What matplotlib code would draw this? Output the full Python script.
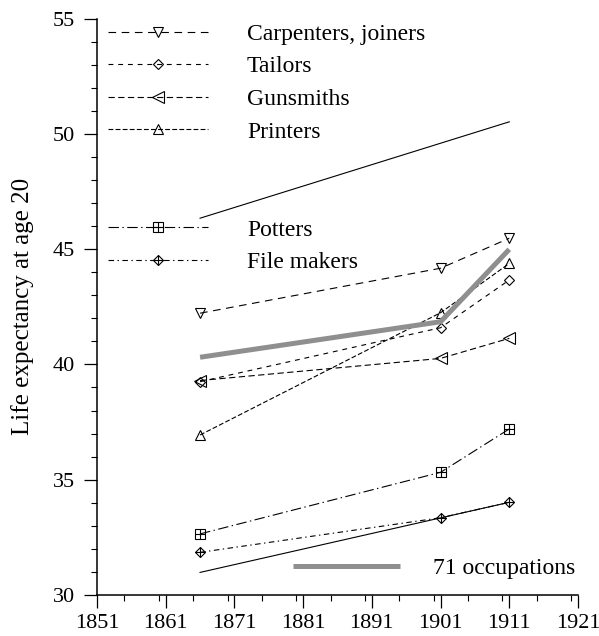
import matplotlib
matplotlib.use("Agg")
import matplotlib.pyplot as plt
from matplotlib.lines import Line2D
from matplotlib.legend_handler import HandlerTuple
from matplotlib.ticker import MultipleLocator

plt.rcParams['font.family'] = ['Liberation Serif', 'DejaVu Serif']
plt.rcParams['lines.scale_dashes'] = False

years = [1866, 1901, 1911]
carpenters = [42.22, 44.17, 45.47]
tailors = [39.25, 41.59, 43.66]
gunsmiths = [39.3, 40.26, 41.13]
printers = [36.94, 42.24, 44.38]
potters = [32.65, 35.32, 37.2]
file_makers = [31.85, 33.35, 34.02]
all_occ = [40.31, 41.85, 44.99]
upper_years = [1866, 1911]
upper_bound = [46.34, 50.52]
lower_years = [1866, 1911]
lower_bound = [30.98, 34.02]

labels = ['Carpenters, joiners', 'Tailors', 'Gunsmiths', 'Printers', 'Potters', 'File makers']
all_label = '71 occupations'
x_ticks = list(range(1851, 1922, 10))
y_ticks = list(range(30, 56, 5))
y_label = 'Life expectancy at age 20'

fig = plt.figure(figsize=(5.99, 6.36), dpi=100)
ax = fig.add_axes([97/599, 41/636, 481/599, 576.5/636])

lw = 0.8
mk = dict(markerfacecolor='none', markeredgecolor='black', markeredgewidth=0.8, color='black', linewidth=lw)

# bound lines
ax.plot(upper_years, upper_bound, color='black', linewidth=lw)
ax.plot(lower_years, lower_bound, color='black', linewidth=lw)

h_carp, = ax.plot(years, carpenters, marker='v', markersize=7.5, dashes=(5.5, 4), **mk)
h_tail, = ax.plot(years, tailors, marker='D', markersize=5.2, dashes=(3.5, 3.5), **mk)
h_gun, = ax.plot(years, gunsmiths, marker='<', markersize=8, dashes=(4.5, 2.5), **mk)
h_print, = ax.plot(years, printers, marker='^', markersize=7.5, dashes=(3.5, 1.6), **mk)
h_pot, = ax.plot(years, potters, marker='s', markersize=7.6, dashes=(7.5, 2.5, 1, 2.5), **mk)
h_pot2, = ax.plot(years, potters, marker='+', linestyle='none', color='black', markersize=7.6, markeredgewidth=0.8)
h_file, = ax.plot(years, file_makers, marker='D', markersize=5.4, dashes=(4, 2.5, 1, 2.5), **mk)
h_file2, = ax.plot(years, file_makers, marker='+', linestyle='none', color='black', markersize=7.7, markeredgewidth=0.8)
h_all, = ax.plot(years, all_occ, color='#8f8f8f', linewidth=3.6, solid_capstyle='butt', zorder=3)

blank = Line2D([], [], linestyle='none')
handles = [h_carp, h_tail, h_gun, h_print, blank, blank, (h_pot, h_pot2), (h_file, h_file2)]
leg_labels = labels[:4] + [' ', ' '] + labels[4:]
leg1 = ax.legend(handles, leg_labels, loc='upper left', bbox_to_anchor=(0.004, 1.008),
                 frameon=False, fontsize=17, handlelength=4.24, handletextpad=1.63,
                 labelspacing=0.47, numpoints=1, borderaxespad=0,
                 handler_map={tuple: HandlerTuple(ndivide=1)})
ax.add_artist(leg1)
ax.legend([h_all], [all_label], loc='lower right', bbox_to_anchor=(1.013, 0.011), frameon=False,
          fontsize=17, handlelength=4.52, handletextpad=1.37, borderaxespad=0)

ax.set_xlim(1851, 1921)
ax.set_ylim(30, 55)
ax.set_xticks(x_ticks)
ax.set_yticks(y_ticks)
ax.xaxis.set_minor_locator(MultipleLocator(5))
ax.yaxis.set_minor_locator(MultipleLocator(1))
ax.tick_params(which='major', direction='out', length=9.4, width=0.9, labelsize=16, colors='black')
ax.tick_params(axis='y', which='major', pad=6.5)
ax.tick_params(axis='x', which='major', pad=4)
ax.tick_params(which='minor', direction='out', length=4.3, width=0.8)
for s in ['top', 'right']:
    ax.spines[s].set_visible(False)
for s in ['left', 'bottom']:
    ax.spines[s].set_linewidth(1.1)
ax.set_ylabel(y_label, fontsize=18)
ax.yaxis.set_label_coords(-0.13, 0.5)

fig.savefig('out.png', dpi=100)
